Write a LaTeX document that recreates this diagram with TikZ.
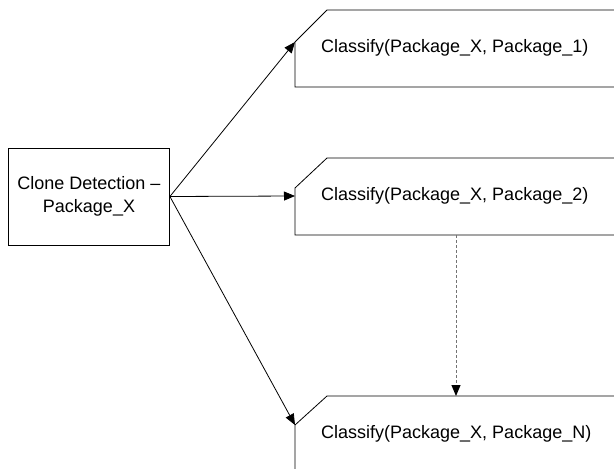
\documentclass[tikz,border=0pt]{standalone}
\usepackage{fontspec}
\setmainfont{Liberation Sans}
\usetikzlibrary{arrows.meta}
\begin{document}
\begin{tikzpicture}[x=1pt,y=1pt,
  every node/.style={font=\fontsize{18}{23}\selectfont},
  boxline/.style={draw=black,line width=0.8pt},
  conn/.style={draw=black,line width=0.8pt,-{Triangle[length=11pt,width=9pt]}},
  dashconn/.style={draw=black!55,line width=1pt,dash pattern=on 3pt off 2pt,-{Triangle[length=11pt,width=9pt,color=black,fill=black]}}]
\useasboundingbox (0,0) rectangle (614,-469);
\clip (0,0) rectangle (614,-469);
% left box
\node[boxline,minimum width=161pt,minimum height=97pt,align=center,inner sep=0pt] (L) at (89,-196.5) {Clone Detection –\\Package\_X};
% classify boxes
\coordinate (c1) at (295,-42);
\coordinate (c2) at (295,-196);
\coordinate (c3) at (295,-425);
\coordinate (b2bot) at (456,-235);
\coordinate (b3top) at (456,-396);
\draw[boxline] (620,-10) -- (327,-10) -- (c1) -- (295,-87) -- (620,-87);
\draw[boxline] (620,-158) -- (327,-158) -- (295,-188) -- (295,-235) -- (620,-235);
\draw[boxline] (620,-396) -- (327,-396) -- (c3) -- (295,-480);
\node[anchor=west,inner sep=0pt] (t1) at (321,-48) {Classify(Package\_X, Package\_1)};
\node[anchor=west,inner sep=0pt] (t2) at (321,-196) {Classify(Package\_X, Package\_2)};
\node[anchor=west,inner sep=0pt] (t3) at (321,-434) {Classify(Package\_X, Package\_N)};
% connectors
\draw[conn] (L.east) -- (c1);
\draw[conn] (L.east) -- (c2);
\draw[conn] (L.east) -- (c3);
\draw[dashconn] (b2bot) -- (b3top);
\end{tikzpicture}
\end{document}
